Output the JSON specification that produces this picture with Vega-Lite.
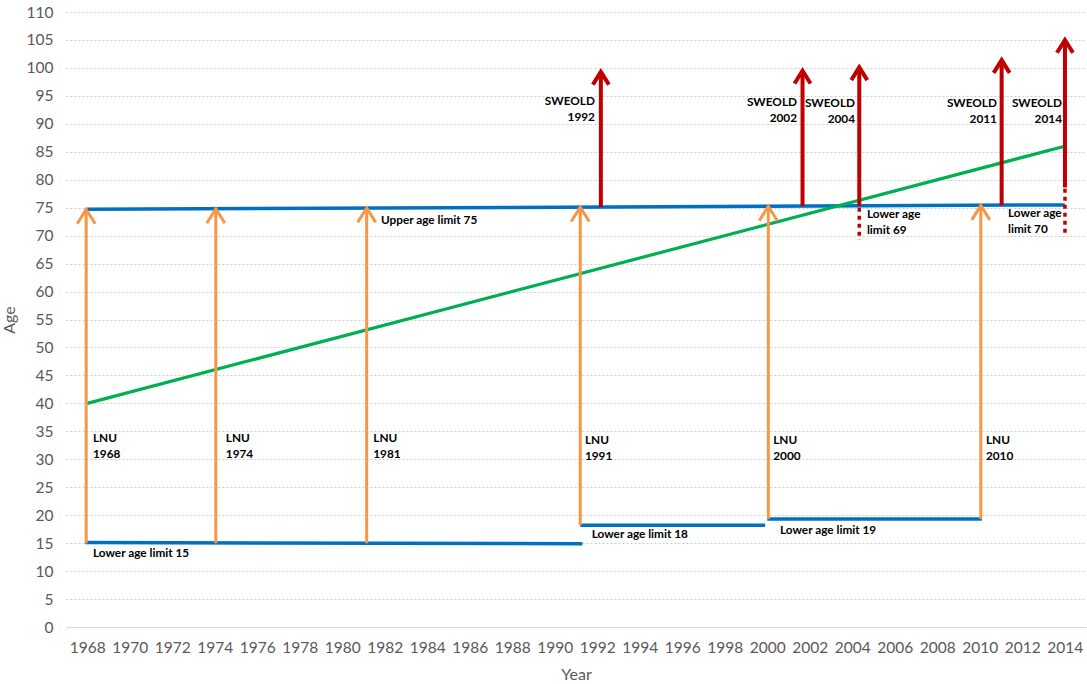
{
  "$schema": "https://vega.github.io/schema/vega-lite/v6.json",
  "width": 1020,
  "height": 615,
  "autosize": "none",
  "padding": {"left": 66, "top": 12, "right": 1, "bottom": 57},
  "background": "white",
  "config": {"view": {"stroke": null}},
  "datasets": {
    "green": [{"x": 1968, "y": 40}, {"x": 2014, "y": 86}],
    "blue": [
      {"x": 1968, "y": 74.7, "x2": 2014, "y2": 75.5},
      {"x": 1967.9, "y": 15.1, "x2": 1991.3, "y2": 14.9},
      {"x": 1991.2, "y": 18.2, "x2": 1999.9, "y2": 18.2},
      {"x": 2000.0, "y": 19.3, "x2": 2010.1, "y2": 19.3}
    ],
    "orange": [
      {"x": 1967.95, "y": 15, "y2": 74.7},
      {"x": 1974.05, "y": 15, "y2": 74.8},
      {"x": 1981.15, "y": 15, "y2": 74.95},
      {"x": 1991.2, "y": 18.2, "y2": 75.1},
      {"x": 2000.05, "y": 19.3, "y2": 75.25},
      {"x": 2010.05, "y": 19.3, "y2": 75.4}
    ],
    "red": [
      {"x": 1992.17, "y": 75.1, "y2": 99.3},
      {"x": 2001.66, "y": 75.3, "y2": 99.5},
      {"x": 2004.33, "y": 75.35, "y2": 100.1},
      {"x": 2011.03, "y": 75.45, "y2": 101.4},
      {"x": 2014.01, "y": 78.6, "y2": 105}
    ],
    "reddash": [
      {"x": 2004.33, "y": 75.0, "y2": 69.2},
      {"x": 2014.01, "y": 78.4, "y2": 70.0}
    ],
    "ltext": [
      {"x": 1968.27, "y": 34.7, "label": "LNU\n1968"},
      {"x": 1974.52, "y": 34.7, "label": "LNU\n1974"},
      {"x": 1981.46, "y": 34.7, "label": "LNU\n1981"},
      {"x": 1991.42, "y": 34.35, "label": "LNU\n1991"},
      {"x": 2000.28, "y": 34.35, "label": "LNU\n2000"},
      {"x": 2010.29, "y": 34.35, "label": "LNU\n2010"},
      {"x": 1981.82, "y": 73.7, "label": "Upper age limit 75"},
      {"x": 1968.27, "y": 14.13, "label": "Lower age limit 15"},
      {"x": 1991.74, "y": 17.53, "label": "Lower age limit 18"},
      {"x": 2000.6, "y": 18.25, "label": "Lower age limit 19"},
      {"x": 2004.69, "y": 74.78, "label": "Lower age\nlimit 69"},
      {"x": 2011.33, "y": 74.96, "label": "Lower age\nlimit 70"}
    ],
    "rtext": [
      {"x": 1991.89, "y": 94.9, "label": "SWEOLD\n1992"},
      {"x": 2001.4, "y": 94.8, "label": "SWEOLD\n2002"},
      {"x": 2004.13, "y": 94.7, "label": "SWEOLD\n2004"},
      {"x": 2010.81, "y": 94.7, "label": "SWEOLD\n2011"},
      {"x": 2013.87, "y": 94.7, "label": "SWEOLD\n2014"}
    ]
  },
  "encoding": {
    "x": {
      "field": "x", "type": "quantitative",
      "scale": {"domain": [1967, 2015], "nice": false, "zero": false},
      "axis": {
        "title": "Year",
        "values": [1968,1970,1972,1974,1976,1978,1980,1982,1984,1986,1988,1990,1992,1994,1996,1998,2000,2002,2004,2006,2008,2010,2012,2014],
        "format": "d", "grid": false, "ticks": false,
        "domain": true, "domainColor": "#d9d9d9", "domainWidth": 1,
        "labelPadding": 13, "labelFont": "Lato", "labelFontSize": 15.5, "labelColor": "#595959",
        "labelOverlap": false, "labelFlush": false, "labelBound": false,
        "titleFont": "Lato", "titleFontSize": 16, "titleColor": "#595959", "titleFontWeight": "normal",
        "titlePadding": 11
      }
    },
    "y": {
      "field": "y", "type": "quantitative",
      "scale": {"domain": [0, 110], "nice": false},
      "axis": {
        "title": "Age",
        "values": [0,5,10,15,20,25,30,35,40,45,50,55,60,65,70,75,80,85,90,95,100,105,110],
        "grid": true, "gridDash": [2, 2], "gridColor": "#cccccc", "gridWidth": 1,
        "domain": false, "ticks": false,
        "labelPadding": 13, "labelFont": "Lato", "labelFontSize": 15.5, "labelColor": "#595959",
        "labelOverlap": false,
        "titleFont": "Lato", "titleFontSize": 16, "titleColor": "#595959", "titleFontWeight": "normal",
        "titlePadding": 9
      }
    }
  },
  "layer": [
    {
      "data": {"name": "blue"},
      "mark": {"type": "rule", "color": "#0070C0", "strokeWidth": 3.5},
      "encoding": {"x2": {"field": "x2"}, "y2": {"field": "y2"}}
    },
    {
      "data": {"name": "green"},
      "mark": {"type": "line", "color": "#00B050", "strokeWidth": 3.2},
      "encoding": {}
    },
    {
      "data": {"name": "orange"},
      "mark": {"type": "rule", "color": "#F79646", "strokeWidth": 3},
      "encoding": {"y2": {"field": "y2"}}
    },
    {
      "data": {"name": "orange"},
      "mark": {"type": "point", "shape": "M-1,1.6L0,0L1,1.6", "filled": false, "stroke": "#F79646", "strokeWidth": 3, "size": 324, "opacity": 1},
      "encoding": {"y": {"field": "y2", "type": "quantitative"}}
    },
    {
      "data": {"name": "red"},
      "mark": {"type": "rule", "color": "#C00000", "strokeWidth": 4},
      "encoding": {"y2": {"field": "y2"}}
    },
    {
      "data": {"name": "red"},
      "mark": {"type": "point", "shape": "M-1,1.6L0,0L1,1.6", "filled": false, "stroke": "#C00000", "strokeWidth": 4, "size": 256, "opacity": 1},
      "encoding": {"y": {"field": "y2", "type": "quantitative"}}
    },
    {
      "data": {"name": "reddash"},
      "mark": {"type": "rule", "color": "#C00000", "strokeWidth": 3.5, "strokeDash": [4, 4]},
      "encoding": {"y2": {"field": "y2"}}
    },
    {
      "data": {"name": "ltext"},
      "mark": {"type": "text", "align": "left", "baseline": "top", "lineBreak": "\n", "lineHeight": 16.5, "font": "Lato", "fontSize": 11.8, "fontWeight": "bold", "color": "#000000"},
      "encoding": {"text": {"field": "label"}}
    },
    {
      "data": {"name": "rtext"},
      "mark": {"type": "text", "align": "right", "baseline": "top", "lineBreak": "\n", "lineHeight": 16, "font": "Lato", "fontSize": 11.8, "fontWeight": "bold", "color": "#000000"},
      "encoding": {"text": {"field": "label"}}
    }
  ]
}
